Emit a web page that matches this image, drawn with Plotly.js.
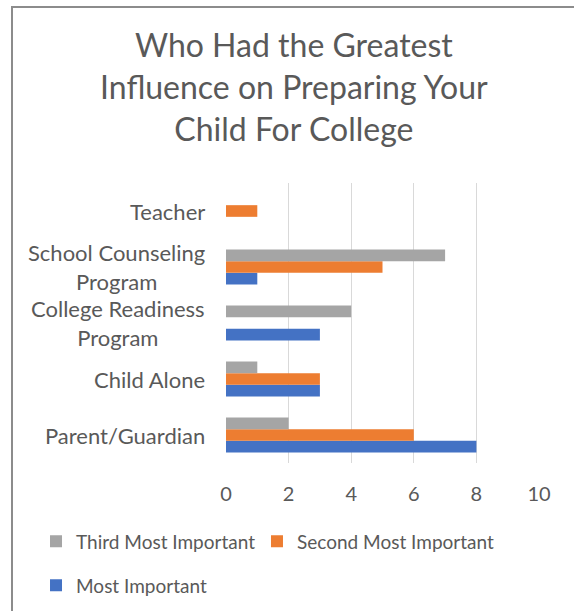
<!DOCTYPE html>
<html>
<head>
<meta charset="utf-8">
<script src="https://cdn.plot.ly/plotly-3.0.1.min.js"></script>
<style>
  html, body { margin: 0; padding: 0; background: #fff; }
  #wrap { position: relative; width: 574px; height: 611px; overflow: hidden; }
  #frame { position: absolute; left: 11px; top: 6px; width: 600px; height: 700px;
           border-left: 2px solid #8c8c8c; border-top: 2px solid #8c8c8c; pointer-events: none; z-index: 5; }
  #chart { position: absolute; left: 0; top: 0; width: 574px; height: 611px; }
</style>
</head>
<body>
<div id="wrap">
  <div id="chart"></div>
  <div id="frame"></div>
</div>
<script>
const categories = ['Parent/Guardian', 'Child Alone', 'College Readiness Program', 'School Counseling Program', 'Teacher'];
const categoryLabels = ['Parent/Guardian', 'Child Alone', 'College Readiness<br>Program', 'School Counseling<br>Program', 'Teacher'];
const mostImportant = [8, 3, 3, 1, 0];
const secondMostImportant = [6, 3, 0, 5, 1];
const thirdMostImportant = [2, 1, 4, 7, 0];
const xTicks = [0, 2, 4, 6, 8, 10];

const FONT = 'Lato, "Open Sans", sans-serif';
const TXT = '#595959';

const traces = [
  { type: 'bar', orientation: 'h', name: 'Most Important', y: categories, x: mostImportant,
    marker: { color: '#4472C4' }, legend: 'legend3' },
  { type: 'bar', orientation: 'h', name: 'Second Most Important', y: categories, x: secondMostImportant,
    marker: { color: '#ED7D31' }, legend: 'legend2' },
  { type: 'bar', orientation: 'h', name: 'Third Most Important', y: categories, x: thirdMostImportant,
    marker: { color: '#A5A5A5' }, legend: 'legend' }
];

const annotations = categories.map((c, i) => ({
  xref: 'paper', yref: 'y', x: -0.062, y: c, xanchor: 'right', yanchor: 'middle',
  text: categoryLabels[i], showarrow: false, align: 'center',
  font: { family: FONT, size: 22, color: TXT }
}));

const legendFont = { family: FONT, size: 19, color: TXT };

const layout = {
  width: 574, height: 611,
  margin: { l: 226, r: 35, t: 183, b: 148, pad: 0, autoexpand: false },
  paper_bgcolor: '#ffffff', plot_bgcolor: '#ffffff',
  font: { family: FONT, color: TXT },
  title: {
    text: 'Who Had the Greatest<br>Influence on Preparing Your<br>Child For College',
    font: { family: FONT, size: 32, color: TXT },
    xref: 'container', x: 0.512, xanchor: 'center',
    yref: 'container', y: 0.906, yanchor: 'top'
  },
  barmode: 'group', bargap: 0.375, bargroupgap: 0,
  xaxis: {
    range: [0, 10], tickvals: xTicks, ticktext: xTicks.map(String),
    showgrid: true, gridcolor: '#D9D9D9', gridwidth: 1,
    zeroline: false, showline: false, ticks: '',
    ticklabelstandoff: 17,
    tickfont: { family: FONT, size: 20, color: TXT },
    fixedrange: true
  },
  yaxis: {
    type: 'category', categoryorder: 'array', categoryarray: categories,
    showticklabels: false, showgrid: false, zeroline: false, showline: false, ticks: '',
    fixedrange: true
  },
  showlegend: true,
  legend: {
    orientation: 'h',
    x: -0.607, xanchor: 'left', y: -0.212, yanchor: 'top',
    font: legendFont, bgcolor: 'rgba(0,0,0,0)'
  },
  legend2: {
    orientation: 'h',
    x: 0.099, xanchor: 'left', y: -0.212, yanchor: 'top',
    font: legendFont, bgcolor: 'rgba(0,0,0,0)'
  },
  legend3: {
    orientation: 'h',
    x: -0.607, xanchor: 'left', y: -0.369, yanchor: 'top',
    font: legendFont, bgcolor: 'rgba(0,0,0,0)'
  },
  annotations: annotations
};

Plotly.newPlot('chart', traces, layout, { displayModeBar: false, staticPlot: true });
</script>
</body>
</html>
